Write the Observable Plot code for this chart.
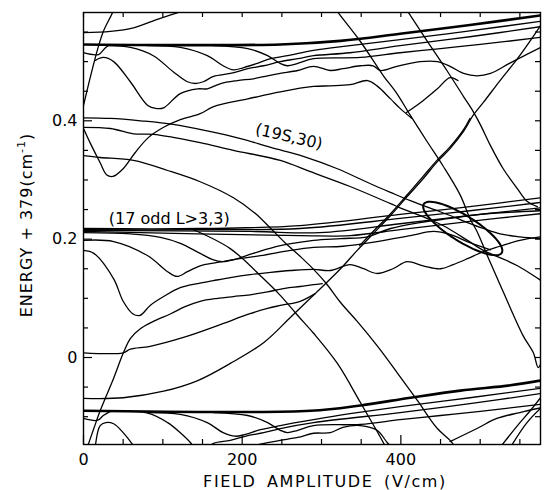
<!DOCTYPE html>
<html><head><meta charset="utf-8">
<script src="https://cdn.jsdelivr.net/npm/d3@7"></script>
<script src="https://cdn.jsdelivr.net/npm/@observablehq/plot@0.6"></script>
<style>body{margin:0;background:#fff}</style>
</head><body><div id="chart"></div>
<script>
// ---- axis ticks ----
const xLabelTicks = [0, 200, 400];
const xMinorTicks = [50, 100, 150, 250, 300, 350, 450, 500, 550];
const yLabelTicks = [0, 0.2, 0.4];
const yMinorTicks = [-0.1, -0.05, 0.05, 0.1, 0.15, 0.25, 0.3, 0.35, 0.45, 0.5, 0.55];

// ---- curves: [field (V/cm), energy + 379 (cm^-1)] ----
const topThick = [[0,0.529],[248,0.529],[324,0.535],[399,0.547],[487,0.562],[576,0.578]];
const topA = [[0,0.426],[9,0.476],[18,0.522],[25,0.551],[37,0.584],[40,0.595]];
const topB = [[0,0.549],[34,0.551],[63,0.557],[88,0.569],[110,0.579],[126,0.586]];
const topT1 = [[0,0.515],[19,0.512],[28,0.524],[34,0.529]];
const topT3 = [[15,0.502],[25,0.507],[38,0.500],[59,0.466],[81,0.426],[91,0.421],[101,0.422],[122,0.446],[144,0.454],[156,0.454],[173,0.463],[194,0.468],[214,0.471],[232,0.476],[248,0.480],[270,0.485],[290,0.492],[311,0.485],[327,0.488],[349,0.493],[365,0.493],[374,0.485],[395,0.492],[424,0.500],[446,0.500],[462,0.492],[479,0.480],[496,0.476],[513,0.480],[538,0.498],[576,0.524]];
const topT4 = [[30,0.527],[59,0.524],[88,0.510],[113,0.483],[131,0.466],[141,0.463],[151,0.466],[164,0.475],[185,0.480],[207,0.488],[227,0.493],[248,0.500],[270,0.505],[290,0.510],[336,0.515],[399,0.527],[487,0.542],[576,0.559]];
const topT5 = [[81,0.527],[122,0.524],[156,0.510],[176,0.493],[189,0.486],[202,0.490],[219,0.497],[236,0.505],[257,0.510],[290,0.519],[336,0.527],[399,0.537],[487,0.552],[576,0.568]];
const topT6 = [[164,0.527],[207,0.522],[232,0.510],[248,0.497],[257,0.493],[270,0.497],[290,0.505],[349,0.507],[399,0.515],[450,0.522],[500,0.529],[576,0.541]];
const topT7 = [[0,0.387],[9,0.361],[21,0.329],[29,0.309],[37,0.306],[50,0.319],[65,0.346],[82,0.372],[101,0.389],[122,0.402],[147,0.412],[164,0.424],[207,0.437],[248,0.449],[290,0.458],[311,0.459],[336,0.461],[358,0.468],[370,0.459],[387,0.437],[399,0.421],[414,0.404]];
const topV1 = [[407,0.414],[428,0.434],[446,0.454],[462,0.473],[472,0.468]];
const steep1 = [[311,0.603],[317,0.590],[349,0.534],[378,0.476],[394,0.448],[412,0.409],[433,0.365],[453,0.324],[475,0.274],[487,0.235],[496,0.213],[509,0.172],[529,0.111],[554,0.037],[567,0.008],[573,-0.017],[576,-0.012]];
const steep2 = [[399,0.603],[406,0.590],[433,0.535],[458,0.485],[479,0.441],[491,0.416],[500,0.394],[513,0.358],[529,0.319],[547,0.285],[559,0.264],[572,0.255]];
const riseX = [[0,-0.069],[50,-0.068],[101,-0.057],[144,-0.039],[185,-0.010],[227,0.025],[261,0.068],[292,0.108],[324,0.150],[345,0.181],[365,0.209],[387,0.240],[408,0.272],[428,0.302],[446,0.331],[462,0.353],[479,0.382],[491,0.409],[504,0.431],[525,0.468],[547,0.505],[563,0.535],[576,0.561]];
const riseX2 = [[348,0.189],[365,0.213],[387,0.243],[408,0.275],[428,0.306],[446,0.334],[462,0.356],[479,0.385],[487,0.404]];
const s19a = [[0,0.405],[34,0.404],[72,0.400],[113,0.394],[156,0.383],[198,0.370],[236,0.355],[277,0.340],[320,0.319],[361,0.294],[387,0.279],[412,0.265],[446,0.248],[462,0.240],[484,0.228],[504,0.218],[525,0.209],[550,0.204],[576,0.201]];
const s19b = [[0,0.389],[34,0.387],[63,0.378],[88,0.377],[113,0.372],[147,0.363],[189,0.350],[248,0.333],[286,0.314],[336,0.289],[387,0.260],[399,0.253],[433,0.235],[453,0.223],[484,0.198],[504,0.181],[521,0.171],[547,0.155],[580,0.127]];
const s19c = [[0,0.341],[21,0.338],[63,0.333],[106,0.316],[147,0.297],[189,0.270],[217,0.243],[236,0.218],[254,0.194],[273,0.171],[290,0.149],[306,0.125],[324,0.093],[345,0.061],[370,0.020],[395,-0.025],[421,-0.073],[446,-0.120],[462,-0.140],[469,-0.152]];
const midB1 = [[0,0.218],[147,0.218],[273,0.223],[399,0.242],[487,0.255],[576,0.270]];
const midB2 = [[0,0.216],[147,0.216],[273,0.218],[399,0.235],[487,0.248],[576,0.262]];
const midB3 = [[0,0.215],[210,0.213],[298,0.211],[399,0.226],[487,0.240],[576,0.253]];
const midB4 = [[0,0.213],[273,0.206],[336,0.206],[399,0.216],[487,0.230],[576,0.243]];
const midM1 = [[0,0.181],[13,0.176],[38,0.133],[50,0.095],[62,0.074],[71,0.071],[84,0.088],[101,0.103],[122,0.118],[144,0.125],[164,0.130],[185,0.135],[210,0.140],[236,0.144],[261,0.147],[290,0.149],[311,0.147],[336,0.157],[353,0.150],[370,0.142],[390,0.150],[408,0.162],[428,0.155],[450,0.150],[466,0.157],[484,0.167],[504,0.179],[525,0.188],[550,0.198],[576,0.204]];
const midM2 = [[0,0.198],[38,0.196],[81,0.172],[106,0.145],[118,0.137],[131,0.145],[147,0.155],[166,0.160],[191,0.166],[223,0.172],[261,0.181],[290,0.186],[327,0.188],[370,0.196],[412,0.206],[441,0.213],[462,0.208],[487,0.194],[513,0.182]];
const midM3 = [[0,0.211],[59,0.209],[97,0.203],[122,0.193],[147,0.176],[162,0.166],[175,0.162],[191,0.166],[214,0.176],[248,0.189],[290,0.198],[324,0.201],[358,0.204],[387,0.218],[424,0.228],[462,0.235],[500,0.242],[576,0.248]];
const midM4 = [[6,-0.147],[13,-0.120],[21,-0.090],[38,-0.035],[50,0.007],[59,0.032],[72,0.049],[88,0.061],[110,0.074],[128,0.086],[147,0.095],[169,0.100],[189,0.103],[210,0.106],[232,0.111],[254,0.117],[273,0.120],[290,0.123],[301,0.125]];
const midL0 = [[0,0.008],[50,0.008],[59,0.014],[84,0.019],[126,0.034],[169,0.054],[210,0.074],[232,0.083],[248,0.088],[273,0.095],[292,0.108]];
const midD1 = [[135,0.218],[185,0.184],[227,0.133],[248,0.105],[270,0.071],[290,0.041],[320,-0.010],[349,-0.076],[368,-0.120],[380,-0.149]];
const botThick = [[0,-0.090],[286,-0.090],[349,-0.081],[412,-0.068],[475,-0.056],[538,-0.047],[576,-0.039]];
const botT1 = [[0,-0.103],[18,-0.106],[25,-0.098],[34,-0.091]];
const botHump = [[15,-0.149],[21,-0.115],[28,-0.110],[38,-0.112],[50,-0.127],[63,-0.149]];
const botT4 = [[34,-0.091],[81,-0.094],[106,-0.110],[122,-0.127],[135,-0.144],[141,-0.155],[154,-0.155],[164,-0.145],[185,-0.140],[207,-0.132],[227,-0.127],[248,-0.120],[290,-0.110],[399,-0.093],[487,-0.078],[576,-0.061]];
const botT5 = [[81,-0.093],[122,-0.096],[156,-0.110],[176,-0.127],[191,-0.133],[204,-0.130],[223,-0.122],[248,-0.115],[290,-0.105],[336,-0.095],[399,-0.083],[487,-0.068],[576,-0.052]];
const botT6 = [[164,-0.093],[207,-0.098],[232,-0.110],[248,-0.123],[257,-0.127],[270,-0.123],[290,-0.115],[349,-0.113],[399,-0.105],[450,-0.098],[500,-0.091],[576,-0.079]];
const botW = [[198,-0.152],[214,-0.149],[232,-0.144],[248,-0.140],[270,-0.135],[290,-0.128],[311,-0.127],[327,-0.118],[349,-0.115],[370,-0.123],[383,-0.144],[389,-0.152]];
const botR1 = [[462,-0.142],[496,-0.120],[521,-0.103],[550,-0.093],[580,-0.084]];
const botR2 = [[525,-0.152],[547,-0.115],[563,-0.090],[580,-0.061]];
const botR3 = [[538,-0.152],[559,-0.110],[580,-0.081]];

// annotations
const labelStates = [
  {x: 108, y: 0.235, text: "(17 odd L>3,3)", rotate: 0},
  {x: 259, y: 0.373, text: "(19S,30)", rotate: 13}
];
const ellipseNote = {x: 478, y: 0.218};

const thin = [topA, topB, topT1, topT3, topT4, topT5, topT6, topT7, topV1, steep1, steep2, riseX,
  s19a, s19b, s19c, midB1, midB2, midB3, midB4, midM1, midM2, midM3, midM4, midL0, midD1,
  botT1, botHump, botT4, botT5, botT6, botW, botR1, botR2, botR3];
const thick = [topThick, botThick];

// geometry for ticks / ellipse
const W = 546, H = 490, mL = 83, mR = 6, mT = 12, mB = 46;
const xDom = [0, 576], yDom = [-0.147, 0.583];
const kx = (xDom[1]-xDom[0]) / (W - mL - mR);
const ky = (yDom[1]-yDom[0]) / (H - mT - mB);

const ell = d3.range(0, 73).map(i => {
  const t = i / 72 * 2 * Math.PI, th = 32 * Math.PI / 180, a = 46, b = 13;
  const sx = a*Math.cos(t)*Math.cos(th) - b*Math.sin(t)*Math.sin(th);
  const sy = a*Math.cos(t)*Math.sin(th) + b*Math.sin(t)*Math.cos(th);
  return [ellipseNote.x + sx*kx, ellipseNote.y - sy*ky];
});

const lineOpts = w => ({x: d => d[0], y: d => d[1], stroke: "black", strokeWidth: w, curve: "catmull-rom", clip: true, strokeLinejoin: "round", strokeLinecap: "round"});

const minorLx = 5*kx, majorLx = 9*kx, minorLy = 5*ky, majorLy = 9*ky;

const chart = Plot.plot({
  width: W, height: H, marginLeft: mL, marginRight: mR, marginTop: mT, marginBottom: mB,
  x: {domain: xDom}, y: {domain: yDom},
  style: {fontFamily: "DejaVu Sans", fontSize: "16px", background: "white", color: "black"},
  marks: [
    ...thin.map(c => Plot.line(c, lineOpts(1.3))),
    ...thick.map(c => Plot.line(c, lineOpts(2.6))),
    Plot.line(riseX2, lineOpts(1.3)),
    Plot.line(ell, {x: d => d[0], y: d => d[1], stroke: "black", strokeWidth: 2, curve: "linear"}),
    Plot.ruleY(yMinorTicks, {y: d => d, x1: xDom[0], x2: xDom[0] + minorLx, stroke: "black", strokeWidth: 1.2}),
    Plot.ruleY(yLabelTicks, {y: d => d, x1: xDom[0], x2: xDom[0] + majorLx, stroke: "black", strokeWidth: 1.2}),
    Plot.ruleY(yMinorTicks.concat(yLabelTicks), {y: d => d, x1: xDom[1] - minorLx, x2: xDom[1], stroke: "black", strokeWidth: 1.2}),
    Plot.ruleX(xMinorTicks, {x: d => d, y1: yDom[0], y2: yDom[0] + minorLy, stroke: "black", strokeWidth: 1.2}),
    Plot.ruleX(xLabelTicks, {x: d => d, y1: yDom[0], y2: yDom[0] + majorLy, stroke: "black", strokeWidth: 1.2}),
    Plot.ruleX(xMinorTicks.concat(xLabelTicks), {x: d => d, y1: yDom[1] - minorLy, y2: yDom[1], stroke: "black", strokeWidth: 1.2}),
    Plot.frame({stroke: "black", strokeWidth: 1.4}),
    Plot.axisX({ticks: xLabelTicks, tickSize: 0, tickPadding: 9, tickFormat: d => String(d), label: null}),
    Plot.axisY({ticks: yLabelTicks, tickSize: 0, tickPadding: 6, tickFormat: d => d === 0 ? "0" : String(d), label: null}),
    Plot.text(labelStates, {x: "x", y: "y", text: "text", rotate: "rotate", fontSize: 16, fill: "black"})
  ]
});

const svg = d3.select(chart);
svg.append("text")
  .attr("x", 325).attr("y", 487)
  .attr("text-anchor", "middle")
  .attr("font-family", "DejaVu Sans").attr("font-size", 16)
  .attr("letter-spacing", "1.6px").attr("word-spacing", "4px")
  .attr("fill", "black")
  .text("FIELD AMPLITUDE (V/cm)");
const yt = svg.append("text")
  .attr("transform", "translate(32,225) rotate(-90)")
  .attr("text-anchor", "middle")
  .attr("font-family", "DejaVu Sans").attr("font-size", 16)
  .attr("letter-spacing", "1px")
  .attr("fill", "black");
yt.append("tspan").text("ENERGY + 379(cm");
yt.append("tspan").attr("font-size", 11).attr("dy", -7).text("-1");
yt.append("tspan").attr("dy", 7).text(")");

document.getElementById("chart").appendChild(chart);
</script>
</body></html>
